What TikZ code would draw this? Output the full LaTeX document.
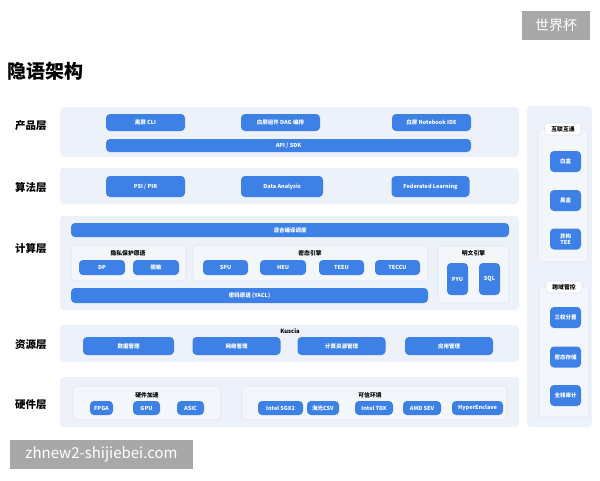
\documentclass[tikz,border=0pt]{standalone}
\usepackage{fontspec}
\setmainfont{Noto Sans CJK SC}
\usepackage{tikz}
\usetikzlibrary{positioning,backgrounds}
\definecolor{syBlue}{RGB}{61,128,230}
\definecolor{syPanel}{RGB}{237,242,250}
\definecolor{syGroup}{RGB}{243,246,251}
\definecolor{syEdge}{RGB}{222,229,239}
\definecolor{syMark}{RGB}{168,168,168}
\tikzset{
  panel/.style={fill=syPanel,draw=none,rounded corners=4pt},
  group/.style={fill=syGroup,draw=syEdge,line width=0.6pt,rounded corners=4pt},
  btn/.style={fill=syBlue,rounded corners=4pt,inner sep=0pt,text=white,
              font=\fontsize{5.5}{6.5}\selectfont\bfseries,align=center},
  gtitle/.style={font=\fontsize{5.8}{7}\selectfont\bfseries,inner sep=1pt},
  tab/.style={fill=white,draw=syEdge,line width=0.6pt,rounded corners=3pt,
              minimum width=36pt,minimum height=12pt,inner sep=0pt,
              font=\fontsize{5.8}{7}\selectfont\bfseries},
  layername/.style={font=\fontsize{10.5}{12}\selectfont\bfseries},
  wmark/.style={fill=syMark,text=white,inner sep=0pt},
}
\begin{document}
\begin{tikzpicture}[x=1pt,y=-1pt]
  \useasboundingbox[fill=white] (0,0) rectangle (600,480);
  % watermarks and title
  \node[wmark,minimum width=68pt,minimum height=29pt,font=\fontsize{14}{16}\selectfont] (wmTop) at (556,25.5) {世界杯};
  \node[anchor=west,inner sep=0pt,font=\fontsize{19}{22}\selectfont\bfseries] (title) at (7,71) {隐语架构};
  % layer panels
  \path[panel] (60,107) rectangle (519,157);
  \path[panel] (60,168) rectangle (519,204);
  \path[panel] (60,216) rectangle (519,310);
  \path[panel] (60,325) rectangle (519,362);
  \path[panel] (60,377) rectangle (519,427);
  \path[panel] (527,106) rectangle (592,427);
  % layer names
  \node[layername] (lProd) at (31,126) {产品层};
  \node[layername] (lAlg) at (31,188) {算法层};
  \node[layername] (lComp) at (31,249) {计算层};
  \node[layername] (lRes) at (31,345) {资源层};
  \node[layername] (lHw) at (31,405) {硬件层};
  % product layer
  \node[btn,minimum width=79pt,minimum height=17pt] (cli) at (145.5,122.5) {黑屏 CLI};
  \node[btn,minimum width=79pt,minimum height=17pt] (dag) at (280.5,122.5) {白屏组件 DAG 编排};
  \node[btn,minimum width=79pt,minimum height=17pt] (ide) at (431.5,122.5) {白屏 Notebook IDE};
  \node[btn,minimum width=365pt,minimum height=13pt] (api) at (288.5,145.5) {API / SDK};
  % algorithm layer
  \node[btn,minimum width=79pt,minimum height=21pt] (psi) at (145.5,186.5) {PSI / PIR};
  \node[btn,minimum width=82pt,minimum height=21pt] (da) at (282,186.5) {Data Analysis};
  \node[btn,minimum width=78pt,minimum height=21pt] (fl) at (430.5,186.5) {Federated Learning};
  % computing layer
  \node[btn,minimum width=438pt,minimum height=14pt] (mix) at (290,230) {混合编译调度};
  \draw[group] (71,245) rectangle (186,281);
  \node[gtitle] (gPriv) at (128,253) {隐私保护原语};
  \node[btn,minimum width=46pt,minimum height=15pt] (dp) at (102,267.5) {DP};
  \node[btn,minimum width=46pt,minimum height=15pt] (mask) at (156,267.5) {脱敏};
  \draw[group] (193,245) rectangle (428,281);
  \node[gtitle] (gSec) at (310,253) {密态引擎};
  \node[btn,minimum width=45pt,minimum height=15pt] (spu) at (225.5,267.5) {SPU};
  \node[btn,minimum width=46pt,minimum height=15pt] (heu) at (283,267.5) {HEU};
  \node[btn,minimum width=45pt,minimum height=15pt] (teeu) at (341.5,267.5) {TEEU};
  \node[btn,minimum width=45pt,minimum height=15pt] (teccu) at (397.5,267.5) {TECCU};
  \draw[group] (438,246) rectangle (509,303);
  \node[gtitle] (gPlain) at (473.5,253) {明文引擎};
  \node[btn,minimum width=21pt,minimum height=32pt] (pyu) at (457.5,279) {PYU};
  \node[btn,minimum width=21pt,minimum height=32pt] (sql) at (489.5,279) {SQL};
  \node[btn,minimum width=357pt,minimum height=15pt] (yacl) at (249.5,295.5) {密码原语 (YACL)};
  % resource layer
  \node[gtitle] (kuscia) at (290,331) {Kuscia};
  \node[btn,minimum width=91pt,minimum height=18pt] (data) at (128.5,346) {数据管理};
  \node[btn,minimum width=88pt,minimum height=18pt] (net) at (236.5,346) {网络管理};
  \node[btn,minimum width=88pt,minimum height=18pt] (cres) at (341.5,346) {计算资源管理};
  \node[btn,minimum width=88pt,minimum height=18pt] (app) at (449,346) {应用管理};
  % hardware layer
  \draw[group] (73,386) rectangle (221,420);
  \node[gtitle] (gAcc) at (147,395) {硬件加速};
  \node[btn,minimum width=23pt,minimum height=14pt] (fpga) at (101.5,408) {FPGA};
  \node[btn,minimum width=27pt,minimum height=14pt] (gpu) at (146.5,408) {GPU};
  \node[btn,minimum width=27pt,minimum height=14pt] (asic) at (190.5,408) {ASIC};
  \draw[group] (242,386) rectangle (507,420);
  \node[gtitle] (gTee) at (370,395) {可信环境};
  \node[btn,minimum width=45pt,minimum height=14pt] (sgx) at (280.5,408) {Intel SGX2};
  \node[btn,minimum width=32pt,minimum height=14pt] (csv) at (323,408) {海光CSV};
  \node[btn,minimum width=38pt,minimum height=14pt] (tdx) at (374,408) {Intel TDX};
  \node[btn,minimum width=38pt,minimum height=14pt] (sev) at (422,408) {AMD SEV};
  \node[btn,minimum width=51pt,minimum height=14pt] (hyper) at (477.5,408) {HyperEnclave};
  % right column
  \draw[group] (538,129) rectangle (588,262);
  \node[tab] (gLink) at (563,129) {互联互通};
  \node[btn,minimum width=31pt,minimum height=21pt] (white) at (565.5,161.5) {白盒};
  \node[btn,minimum width=31pt,minimum height=21pt] (black) at (565.5,200.5) {黑盒};
  \node[btn,minimum width=31pt,minimum height=21pt] (htee) at (565.5,239) {异构\\TEE};
  \draw[group] (539,287) rectangle (589,417);
  \node[tab] (gCtrl) at (564,287) {跨域管控};
  \node[btn,minimum width=31pt,minimum height=21pt] (three) at (565.5,317.5) {三权分置};
  \node[btn,minimum width=31pt,minimum height=21pt] (store) at (565.5,357) {密态存储};
  \node[btn,minimum width=31pt,minimum height=21pt] (audit) at (565.5,395.5) {全栈审计};
  % bottom watermark
  \node[wmark,minimum width=183pt,minimum height=29pt,font=\fontsize{15}{17}\selectfont] (wmBot) at (101.5,454.5) {zhnew2-shijiebei.com};
\end{tikzpicture}
\end{document}
